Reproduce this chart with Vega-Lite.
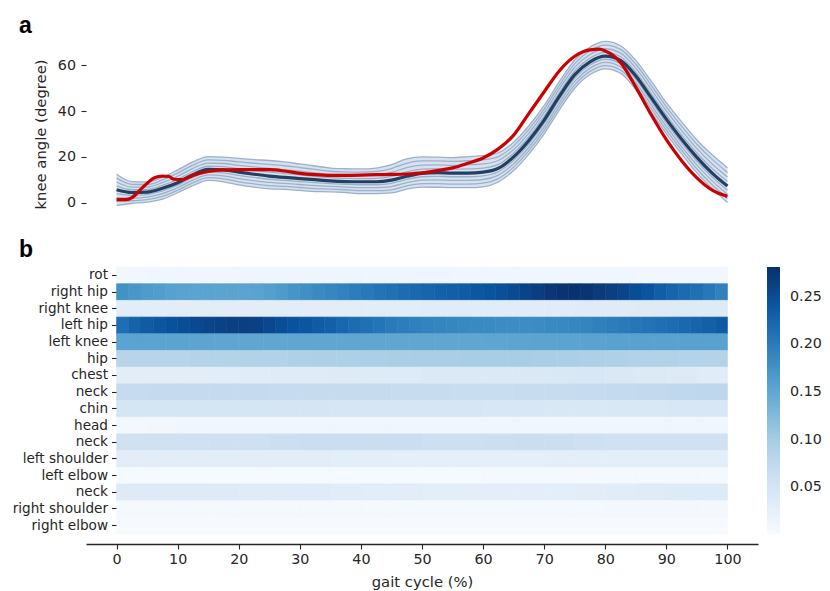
{
"$schema": "https://vega.github.io/schema/vega-lite/v6.json",
"padding": {"left": 12, "top": 14, "right": 5, "bottom": 2},
"spacing": 24,
"resolve": {"scale": {"color": "independent"}, "legend": {"color": "independent"}},
"config": {"view": {"stroke": null}, "font": "DejaVu Sans",
  "axis": {"labelFont": "DejaVu Sans", "titleFont": "DejaVu Sans", "labelColor": "#262626", "titleColor": "#262626", "tickColor": "#262626", "domainColor": "#262626", "grid": false, "titleFontWeight": "normal"},
  "legend": {"labelFont": "DejaVu Sans", "labelColor": "#262626"}},
"datasets": {
"mean": [
{"x":0,"m":5.6,"a1":7.3,"a2":9.0,"a3":10.7,"a4":12.4,"b1":3.9,"b2":2.2,"b3":0.5,"b4":-1.2},
{"x":2.5,"m":4.4,"a1":5.6,"a2":6.8,"a3":8.0,"a4":9.2,"b1":3.2,"b2":2.0,"b3":0.8,"b4":-0.4},
{"x":5,"m":4.6,"a1":5.7,"a2":6.8,"a3":7.9,"a4":9.0,"b1":3.5,"b2":2.4,"b3":1.3,"b4":0.2},
{"x":7.5,"m":6.3,"a1":7.5,"a2":8.7,"a3":9.9,"a4":11.1,"b1":5.1,"b2":3.9,"b3":2.7,"b4":1.5},
{"x":10,"m":8.7,"a1":10.1,"a2":11.5,"a3":12.9,"a4":14.3,"b1":7.6,"b2":6.5,"b3":5.4,"b4":4.3},
{"x":12.5,"m":12.2,"a1":13.6,"a2":15.0,"a3":16.4,"a4":17.8,"b1":11.0,"b2":9.8,"b3":8.6,"b4":7.4},
{"x":15,"m":14.5,"a1":15.9,"a2":17.3,"a3":18.7,"a4":20.1,"b1":13.3,"b2":12.1,"b3":10.9,"b4":9.7},
{"x":17.5,"m":14.3,"a1":15.7,"a2":17.1,"a3":18.5,"a4":19.9,"b1":13.0,"b2":11.7,"b3":10.4,"b4":9.1},
{"x":20,"m":13.3,"a1":14.8,"a2":16.3,"a3":17.8,"a4":19.3,"b1":11.9,"b2":10.5,"b3":9.1,"b4":7.7},
{"x":22.5,"m":12.4,"a1":14.0,"a2":15.6,"a3":17.2,"a4":18.8,"b1":11.0,"b2":9.6,"b3":8.2,"b4":6.8},
{"x":25,"m":11.6,"a1":13.3,"a2":15.0,"a3":16.7,"a4":18.4,"b1":10.2,"b2":8.8,"b3":7.4,"b4":6.0},
{"x":27.5,"m":11.0,"a1":12.7,"a2":14.4,"a3":16.1,"a4":17.8,"b1":9.7,"b2":8.4,"b3":7.1,"b4":5.8},
{"x":30,"m":10.5,"a1":12.1,"a2":13.7,"a3":15.3,"a4":16.9,"b1":9.2,"b2":7.9,"b3":6.6,"b4":5.3},
{"x":32.5,"m":10.0,"a1":11.5,"a2":13.0,"a3":14.5,"a4":16.0,"b1":8.7,"b2":7.4,"b3":6.1,"b4":4.8},
{"x":35,"m":9.5,"a1":10.9,"a2":12.3,"a3":13.7,"a4":15.1,"b1":8.3,"b2":7.1,"b3":5.9,"b4":4.7},
{"x":37.5,"m":9.2,"a1":10.6,"a2":12.0,"a3":13.4,"a4":14.8,"b1":8.0,"b2":6.8,"b3":5.6,"b4":4.4},
{"x":40,"m":9.1,"a1":10.5,"a2":11.9,"a3":13.3,"a4":14.7,"b1":7.8,"b2":6.5,"b3":5.2,"b4":3.9},
{"x":42.5,"m":9.1,"a1":10.6,"a2":12.1,"a3":13.6,"a4":15.1,"b1":7.8,"b2":6.5,"b3":5.2,"b4":3.9},
{"x":45,"m":9.8,"a1":11.5,"a2":13.2,"a3":14.9,"a4":16.6,"b1":8.4,"b2":7.0,"b3":5.6,"b4":4.2},
{"x":47.5,"m":11.5,"a1":13.4,"a2":15.3,"a3":17.2,"a4":19.1,"b1":10.1,"b2":8.7,"b3":7.3,"b4":5.9},
{"x":50,"m":12.8,"a1":14.6,"a2":16.4,"a3":18.2,"a4":20.0,"b1":11.3,"b2":9.8,"b3":8.3,"b4":6.8},
{"x":52.5,"m":13.1,"a1":14.8,"a2":16.5,"a3":18.2,"a4":19.9,"b1":11.5,"b2":9.9,"b3":8.3,"b4":6.7},
{"x":55,"m":12.9,"a1":14.6,"a2":16.3,"a3":18.0,"a4":19.7,"b1":11.3,"b2":9.7,"b3":8.1,"b4":6.5},
{"x":57.5,"m":12.9,"a1":14.7,"a2":16.5,"a3":18.3,"a4":20.1,"b1":11.3,"b2":9.7,"b3":8.1,"b4":6.5},
{"x":60,"m":13.3,"a1":15.1,"a2":16.9,"a3":18.7,"a4":20.5,"b1":11.7,"b2":10.1,"b3":8.5,"b4":6.9},
{"x":62.5,"m":15.0,"a1":16.7,"a2":18.4,"a3":20.1,"a4":21.8,"b1":13.5,"b2":12.0,"b3":10.5,"b4":9.0},
{"x":65,"m":20.0,"a1":21.6,"a2":23.2,"a3":24.8,"a4":26.4,"b1":18.5,"b2":17.0,"b3":15.5,"b4":14.0},
{"x":67.5,"m":27.2,"a1":28.8,"a2":30.4,"a3":32.0,"a4":33.6,"b1":25.7,"b2":24.2,"b3":22.7,"b4":21.2},
{"x":70,"m":36.1,"a1":37.7,"a2":39.3,"a3":40.9,"a4":42.5,"b1":34.6,"b2":33.1,"b3":31.6,"b4":30.1},
{"x":72.5,"m":46.6,"a1":48.2,"a2":49.8,"a3":51.4,"a4":53.0,"b1":45.1,"b2":43.6,"b3":42.1,"b4":40.6},
{"x":75,"m":56.0,"a1":57.6,"a2":59.2,"a3":60.8,"a4":62.4,"b1":54.5,"b2":53.0,"b3":51.5,"b4":50.0},
{"x":77.5,"m":61.6,"a1":63.2,"a2":64.8,"a3":66.4,"a4":68.0,"b1":60.2,"b2":58.8,"b3":57.4,"b4":56.0},
{"x":80,"m":64.1,"a1":65.7,"a2":67.3,"a3":68.9,"a4":70.5,"b1":62.7,"b2":61.3,"b3":59.9,"b4":58.5},
{"x":82.5,"m":62.2,"a1":63.8,"a2":65.4,"a3":67.0,"a4":68.6,"b1":60.8,"b2":59.4,"b3":58.0,"b4":56.6},
{"x":85,"m":55.4,"a1":57.1,"a2":58.8,"a3":60.5,"a4":62.2,"b1":53.9,"b2":52.4,"b3":50.9,"b4":49.4},
{"x":87.5,"m":46.0,"a1":47.8,"a2":49.6,"a3":51.4,"a4":53.2,"b1":44.4,"b2":42.8,"b3":41.2,"b4":39.6},
{"x":90,"m":36.5,"a1":38.3,"a2":40.1,"a3":41.9,"a4":43.7,"b1":34.9,"b2":33.3,"b3":31.7,"b4":30.1},
{"x":92.5,"m":27.7,"a1":29.6,"a2":31.5,"a3":33.4,"a4":35.3,"b1":26.1,"b2":24.5,"b3":22.9,"b4":21.3},
{"x":95,"m":19.8,"a1":21.7,"a2":23.6,"a3":25.5,"a4":27.4,"b1":18.1,"b2":16.4,"b3":14.7,"b4":13.0},
{"x":97.5,"m":12.9,"a1":14.9,"a2":16.9,"a3":18.9,"a4":20.9,"b1":11.2,"b2":9.5,"b3":7.8,"b4":6.1},
{"x":100,"m":7.2,"a1":9.2,"a2":11.2,"a3":13.2,"a4":15.2,"b1":5.4,"b2":3.6,"b3":1.8,"b4":0.0}
],
"subj": [
{"x":0,"r":1.3},{"x":1.5,"r":1.3},{"x":2.6,"r":2.3},{"x":4.2,"r":6.4},{"x":5.2,"r":8.9},{"x":6.2,"r":10.9},{"x":7.5,"r":11.6},{"x":8.6,"r":11.4},{"x":9.4,"r":10.2},{"x":10.9,"r":10.1},{"x":12.5,"r":11.9},{"x":15,"r":13.6},{"x":17.5,"r":14.3},{"x":20,"r":14.4},{"x":22.5,"r":14.4},{"x":25,"r":14.4},{"x":27.5,"r":13.8},{"x":30,"r":12.8},{"x":32.5,"r":12.2},{"x":35,"r":11.9},{"x":37.5,"r":11.9},{"x":40,"r":12.0},{"x":42.5,"r":12.2},{"x":45,"r":12.3},{"x":47.5,"r":12.5},{"x":50,"r":13.0},{"x":52.5,"r":14.0},{"x":55,"r":15.2},{"x":57.5,"r":17.2},{"x":60,"r":19.5},{"x":62.5,"r":23.5},{"x":65,"r":29.5},{"x":67.5,"r":39.0},{"x":70,"r":48.5},{"x":72.5,"r":57.7},{"x":75,"r":64.0},{"x":77.5,"r":66.8},{"x":79,"r":67.1},{"x":80,"r":66.3},{"x":82.5,"r":61.3},{"x":85,"r":50.5},{"x":87.5,"r":38.5},{"x":90,"r":27.5},{"x":92.5,"r":18.3},{"x":95,"r":10.8},{"x":97.5,"r":5.4},{"x":100,"r":2.7}
],
"heat": [
{"i":0,"x":0,"x2":5,"v":0.010},{"i":0,"x":5,"x2":10,"v":0.011},{"i":0,"x":10,"x2":15,"v":0.012},{"i":0,"x":15,"x2":20,"v":0.012},{"i":0,"x":20,"x2":25,"v":0.013},{"i":0,"x":25,"x2":30,"v":0.013},{"i":0,"x":30,"x2":35,"v":0.013},{"i":0,"x":35,"x2":40,"v":0.013},{"i":0,"x":40,"x2":45,"v":0.013},{"i":0,"x":45,"x2":50,"v":0.013},{"i":0,"x":50,"x2":55,"v":0.013},{"i":0,"x":55,"x2":60,"v":0.012},{"i":0,"x":60,"x2":65,"v":0.012},{"i":0,"x":65,"x2":70,"v":0.012},{"i":0,"x":70,"x2":75,"v":0.012},{"i":0,"x":75,"x2":80,"v":0.011},{"i":0,"x":80,"x2":85,"v":0.011},{"i":0,"x":85,"x2":90,"v":0.010},{"i":0,"x":90,"x2":95,"v":0.010},{"i":0,"x":95,"x2":100,"v":0.009},
{"i":1,"x":0,"x2":2,"v":0.176},{"i":1,"x":2,"x2":4,"v":0.170},{"i":1,"x":4,"x2":6,"v":0.165},{"i":1,"x":6,"x2":8,"v":0.162},{"i":1,"x":8,"x2":10,"v":0.158},{"i":1,"x":10,"x2":12,"v":0.156},{"i":1,"x":12,"x2":14,"v":0.155},{"i":1,"x":14,"x2":16,"v":0.154},{"i":1,"x":16,"x2":18,"v":0.154},{"i":1,"x":18,"x2":20,"v":0.154},
{"i":1,"x":20,"x2":22,"v":0.155},{"i":1,"x":22,"x2":24,"v":0.156},{"i":1,"x":24,"x2":26,"v":0.160},{"i":1,"x":26,"x2":28,"v":0.166},{"i":1,"x":28,"x2":30,"v":0.172},{"i":1,"x":30,"x2":32,"v":0.178},{"i":1,"x":32,"x2":34,"v":0.184},{"i":1,"x":34,"x2":36,"v":0.188},{"i":1,"x":36,"x2":38,"v":0.193},{"i":1,"x":38,"x2":40,"v":0.198},
{"i":1,"x":40,"x2":42,"v":0.203},{"i":1,"x":42,"x2":44,"v":0.208},{"i":1,"x":44,"x2":46,"v":0.212},{"i":1,"x":46,"x2":48,"v":0.216},{"i":1,"x":48,"x2":50,"v":0.221},{"i":1,"x":50,"x2":52,"v":0.224},{"i":1,"x":52,"x2":54,"v":0.228},{"i":1,"x":54,"x2":56,"v":0.231},{"i":1,"x":56,"x2":58,"v":0.235},{"i":1,"x":58,"x2":60,"v":0.239},
{"i":1,"x":60,"x2":62,"v":0.243},{"i":1,"x":62,"x2":64,"v":0.248},{"i":1,"x":64,"x2":66,"v":0.253},{"i":1,"x":66,"x2":68,"v":0.260},{"i":1,"x":68,"x2":70,"v":0.266},{"i":1,"x":70,"x2":72,"v":0.272},{"i":1,"x":72,"x2":74,"v":0.277},{"i":1,"x":74,"x2":76,"v":0.278},{"i":1,"x":76,"x2":78,"v":0.275},{"i":1,"x":78,"x2":80,"v":0.269},
{"i":1,"x":80,"x2":82,"v":0.264},{"i":1,"x":82,"x2":84,"v":0.258},{"i":1,"x":84,"x2":86,"v":0.250},{"i":1,"x":86,"x2":88,"v":0.242},{"i":1,"x":88,"x2":90,"v":0.233},{"i":1,"x":90,"x2":92,"v":0.225},{"i":1,"x":92,"x2":94,"v":0.218},{"i":1,"x":94,"x2":96,"v":0.212},{"i":1,"x":96,"x2":98,"v":0.204},{"i":1,"x":98,"x2":100,"v":0.194},
{"i":2,"x":0,"x2":5,"v":0.032},{"i":2,"x":5,"x2":10,"v":0.031},{"i":2,"x":10,"x2":15,"v":0.031},{"i":2,"x":15,"x2":20,"v":0.031},{"i":2,"x":20,"x2":25,"v":0.031},{"i":2,"x":25,"x2":30,"v":0.031},{"i":2,"x":30,"x2":35,"v":0.031},{"i":2,"x":35,"x2":40,"v":0.031},{"i":2,"x":40,"x2":45,"v":0.032},{"i":2,"x":45,"x2":50,"v":0.032},{"i":2,"x":50,"x2":55,"v":0.033},{"i":2,"x":55,"x2":60,"v":0.033},{"i":2,"x":60,"x2":65,"v":0.033},{"i":2,"x":65,"x2":70,"v":0.033},{"i":2,"x":70,"x2":75,"v":0.033},{"i":2,"x":75,"x2":80,"v":0.034},{"i":2,"x":80,"x2":85,"v":0.035},{"i":2,"x":85,"x2":90,"v":0.036},{"i":2,"x":90,"x2":95,"v":0.037},{"i":2,"x":95,"x2":100,"v":0.037},
{"i":3,"x":0,"x2":2,"v":0.214},{"i":3,"x":2,"x2":4,"v":0.226},{"i":3,"x":4,"x2":6,"v":0.235},{"i":3,"x":6,"x2":8,"v":0.240},{"i":3,"x":8,"x2":10,"v":0.246},{"i":3,"x":10,"x2":12,"v":0.250},{"i":3,"x":12,"x2":14,"v":0.254},{"i":3,"x":14,"x2":16,"v":0.258},{"i":3,"x":16,"x2":18,"v":0.261},{"i":3,"x":18,"x2":20,"v":0.264},
{"i":3,"x":20,"x2":22,"v":0.265},{"i":3,"x":22,"x2":24,"v":0.262},{"i":3,"x":24,"x2":26,"v":0.256},{"i":3,"x":26,"x2":28,"v":0.250},{"i":3,"x":28,"x2":30,"v":0.245},{"i":3,"x":30,"x2":32,"v":0.240},{"i":3,"x":32,"x2":34,"v":0.235},{"i":3,"x":34,"x2":36,"v":0.229},{"i":3,"x":36,"x2":38,"v":0.223},{"i":3,"x":38,"x2":40,"v":0.217},
{"i":3,"x":40,"x2":42,"v":0.212},{"i":3,"x":42,"x2":44,"v":0.207},{"i":3,"x":44,"x2":46,"v":0.202},{"i":3,"x":46,"x2":48,"v":0.198},{"i":3,"x":48,"x2":50,"v":0.195},{"i":3,"x":50,"x2":52,"v":0.192},{"i":3,"x":52,"x2":54,"v":0.190},{"i":3,"x":54,"x2":56,"v":0.188},{"i":3,"x":56,"x2":58,"v":0.186},{"i":3,"x":58,"x2":60,"v":0.184},
{"i":3,"x":60,"x2":62,"v":0.183},{"i":3,"x":62,"x2":64,"v":0.182},{"i":3,"x":64,"x2":66,"v":0.181},{"i":3,"x":66,"x2":68,"v":0.181},{"i":3,"x":68,"x2":70,"v":0.182},{"i":3,"x":70,"x2":72,"v":0.184},{"i":3,"x":72,"x2":74,"v":0.186},{"i":3,"x":74,"x2":76,"v":0.188},{"i":3,"x":76,"x2":78,"v":0.191},{"i":3,"x":78,"x2":80,"v":0.195},
{"i":3,"x":80,"x2":82,"v":0.198},{"i":3,"x":82,"x2":84,"v":0.201},{"i":3,"x":84,"x2":86,"v":0.205},{"i":3,"x":86,"x2":88,"v":0.209},{"i":3,"x":88,"x2":90,"v":0.213},{"i":3,"x":90,"x2":92,"v":0.217},{"i":3,"x":92,"x2":94,"v":0.221},{"i":3,"x":94,"x2":96,"v":0.225},{"i":3,"x":96,"x2":98,"v":0.230},{"i":3,"x":98,"x2":100,"v":0.236},
{"i":4,"x":0,"x2":4,"v":0.155},{"i":4,"x":4,"x2":8,"v":0.155},{"i":4,"x":8,"x2":12,"v":0.154},{"i":4,"x":12,"x2":16,"v":0.153},{"i":4,"x":16,"x2":20,"v":0.152},{"i":4,"x":20,"x2":24,"v":0.151},{"i":4,"x":24,"x2":28,"v":0.151},{"i":4,"x":28,"x2":32,"v":0.151},{"i":4,"x":32,"x2":36,"v":0.151},{"i":4,"x":36,"x2":40,"v":0.151},{"i":4,"x":40,"x2":44,"v":0.151},{"i":4,"x":44,"x2":48,"v":0.151},{"i":4,"x":48,"x2":52,"v":0.151},{"i":4,"x":52,"x2":56,"v":0.151},{"i":4,"x":56,"x2":60,"v":0.151},{"i":4,"x":60,"x2":64,"v":0.152},{"i":4,"x":64,"x2":68,"v":0.153},{"i":4,"x":68,"x2":72,"v":0.154},{"i":4,"x":72,"x2":76,"v":0.155},{"i":4,"x":76,"x2":80,"v":0.156},{"i":4,"x":80,"x2":84,"v":0.157},{"i":4,"x":84,"x2":88,"v":0.157},{"i":4,"x":88,"x2":92,"v":0.157},{"i":4,"x":92,"x2":96,"v":0.157},{"i":4,"x":96,"x2":100,"v":0.157},
{"i":5,"x":0,"x2":4,"v":0.085},{"i":5,"x":4,"x2":8,"v":0.085},{"i":5,"x":8,"x2":12,"v":0.086},{"i":5,"x":12,"x2":16,"v":0.087},{"i":5,"x":16,"x2":20,"v":0.088},{"i":5,"x":20,"x2":24,"v":0.089},{"i":5,"x":24,"x2":28,"v":0.090},{"i":5,"x":28,"x2":32,"v":0.092},{"i":5,"x":32,"x2":36,"v":0.093},{"i":5,"x":36,"x2":40,"v":0.094},{"i":5,"x":40,"x2":44,"v":0.095},{"i":5,"x":44,"x2":48,"v":0.096},{"i":5,"x":48,"x2":52,"v":0.097},{"i":5,"x":52,"x2":56,"v":0.097},{"i":5,"x":56,"x2":60,"v":0.098},{"i":5,"x":60,"x2":64,"v":0.098},{"i":5,"x":64,"x2":68,"v":0.098},{"i":5,"x":68,"x2":72,"v":0.097},{"i":5,"x":72,"x2":76,"v":0.095},{"i":5,"x":76,"x2":80,"v":0.093},{"i":5,"x":80,"x2":84,"v":0.092},{"i":5,"x":84,"x2":88,"v":0.090},{"i":5,"x":88,"x2":92,"v":0.089},{"i":5,"x":92,"x2":96,"v":0.088},{"i":5,"x":96,"x2":100,"v":0.087},
{"i":6,"x":0,"x2":5,"v":0.031},{"i":6,"x":5,"x2":10,"v":0.031},{"i":6,"x":10,"x2":15,"v":0.031},{"i":6,"x":15,"x2":20,"v":0.032},{"i":6,"x":20,"x2":25,"v":0.033},{"i":6,"x":25,"x2":30,"v":0.034},{"i":6,"x":30,"x2":35,"v":0.035},{"i":6,"x":35,"x2":40,"v":0.036},{"i":6,"x":40,"x2":45,"v":0.037},{"i":6,"x":45,"x2":50,"v":0.038},{"i":6,"x":50,"x2":55,"v":0.040},{"i":6,"x":55,"x2":60,"v":0.041},{"i":6,"x":60,"x2":65,"v":0.041},{"i":6,"x":65,"x2":70,"v":0.042},{"i":6,"x":70,"x2":75,"v":0.043},{"i":6,"x":75,"x2":80,"v":0.044},{"i":6,"x":80,"x2":85,"v":0.042},{"i":6,"x":85,"x2":90,"v":0.039},{"i":6,"x":90,"x2":95,"v":0.036},{"i":6,"x":95,"x2":100,"v":0.033},
{"i":7,"x":0,"x2":5,"v":0.071},{"i":7,"x":5,"x2":10,"v":0.072},{"i":7,"x":10,"x2":15,"v":0.072},{"i":7,"x":15,"x2":20,"v":0.072},{"i":7,"x":20,"x2":25,"v":0.072},{"i":7,"x":25,"x2":30,"v":0.071},{"i":7,"x":30,"x2":35,"v":0.070},{"i":7,"x":35,"x2":40,"v":0.070},{"i":7,"x":40,"x2":45,"v":0.070},{"i":7,"x":45,"x2":50,"v":0.069},{"i":7,"x":50,"x2":55,"v":0.068},{"i":7,"x":55,"x2":60,"v":0.067},{"i":7,"x":60,"x2":65,"v":0.067},{"i":7,"x":65,"x2":70,"v":0.068},{"i":7,"x":70,"x2":75,"v":0.069},{"i":7,"x":75,"x2":80,"v":0.071},{"i":7,"x":80,"x2":85,"v":0.073},{"i":7,"x":85,"x2":90,"v":0.075},{"i":7,"x":90,"x2":95,"v":0.077},{"i":7,"x":95,"x2":100,"v":0.078},
{"i":8,"x":0,"x2":5,"v":0.050},{"i":8,"x":5,"x2":10,"v":0.050},{"i":8,"x":10,"x2":15,"v":0.050},{"i":8,"x":15,"x2":20,"v":0.050},{"i":8,"x":20,"x2":25,"v":0.050},{"i":8,"x":25,"x2":30,"v":0.049},{"i":8,"x":30,"x2":35,"v":0.049},{"i":8,"x":35,"x2":40,"v":0.048},{"i":8,"x":40,"x2":45,"v":0.048},{"i":8,"x":45,"x2":50,"v":0.047},{"i":8,"x":50,"x2":55,"v":0.046},{"i":8,"x":55,"x2":60,"v":0.046},{"i":8,"x":60,"x2":65,"v":0.045},{"i":8,"x":65,"x2":70,"v":0.044},{"i":8,"x":70,"x2":75,"v":0.043},{"i":8,"x":75,"x2":80,"v":0.043},{"i":8,"x":80,"x2":85,"v":0.043},{"i":8,"x":85,"x2":90,"v":0.043},{"i":8,"x":90,"x2":95,"v":0.044},{"i":8,"x":95,"x2":100,"v":0.044},
{"i":9,"x":0,"x2":5,"v":0.008},{"i":9,"x":5,"x2":10,"v":0.010},{"i":9,"x":10,"x2":15,"v":0.011},{"i":9,"x":15,"x2":20,"v":0.011},{"i":9,"x":20,"x2":25,"v":0.011},{"i":9,"x":25,"x2":30,"v":0.012},{"i":9,"x":30,"x2":35,"v":0.012},{"i":9,"x":35,"x2":40,"v":0.012},{"i":9,"x":40,"x2":45,"v":0.012},{"i":9,"x":45,"x2":50,"v":0.012},{"i":9,"x":50,"x2":55,"v":0.012},{"i":9,"x":55,"x2":60,"v":0.012},{"i":9,"x":60,"x2":65,"v":0.012},{"i":9,"x":65,"x2":70,"v":0.012},{"i":9,"x":70,"x2":75,"v":0.012},{"i":9,"x":75,"x2":80,"v":0.012},{"i":9,"x":80,"x2":85,"v":0.012},{"i":9,"x":85,"x2":90,"v":0.012},{"i":9,"x":90,"x2":95,"v":0.012},{"i":9,"x":95,"x2":100,"v":0.012},
{"i":10,"x":0,"x2":5,"v":0.057},{"i":10,"x":5,"x2":10,"v":0.057},{"i":10,"x":10,"x2":15,"v":0.058},{"i":10,"x":15,"x2":20,"v":0.059},{"i":10,"x":20,"x2":25,"v":0.060},{"i":10,"x":25,"x2":30,"v":0.062},{"i":10,"x":30,"x2":35,"v":0.064},{"i":10,"x":35,"x2":40,"v":0.064},{"i":10,"x":40,"x2":45,"v":0.065},{"i":10,"x":45,"x2":50,"v":0.064},{"i":10,"x":50,"x2":55,"v":0.061},{"i":10,"x":55,"x2":60,"v":0.061},{"i":10,"x":60,"x2":65,"v":0.063},{"i":10,"x":65,"x2":70,"v":0.065},{"i":10,"x":70,"x2":75,"v":0.062},{"i":10,"x":75,"x2":80,"v":0.059},{"i":10,"x":80,"x2":85,"v":0.058},{"i":10,"x":85,"x2":90,"v":0.058},{"i":10,"x":90,"x2":95,"v":0.058},{"i":10,"x":95,"x2":100,"v":0.058},
{"i":11,"x":0,"x2":5,"v":0.031},{"i":11,"x":5,"x2":10,"v":0.031},{"i":11,"x":10,"x2":15,"v":0.031},{"i":11,"x":15,"x2":20,"v":0.031},{"i":11,"x":20,"x2":25,"v":0.031},{"i":11,"x":25,"x2":30,"v":0.031},{"i":11,"x":30,"x2":35,"v":0.031},{"i":11,"x":35,"x2":40,"v":0.030},{"i":11,"x":40,"x2":45,"v":0.029},{"i":11,"x":45,"x2":50,"v":0.028},{"i":11,"x":50,"x2":55,"v":0.028},{"i":11,"x":55,"x2":60,"v":0.028},{"i":11,"x":60,"x2":65,"v":0.028},{"i":11,"x":65,"x2":70,"v":0.028},{"i":11,"x":70,"x2":75,"v":0.029},{"i":11,"x":75,"x2":80,"v":0.030},{"i":11,"x":80,"x2":85,"v":0.030},{"i":11,"x":85,"x2":90,"v":0.030},{"i":11,"x":90,"x2":95,"v":0.030},{"i":11,"x":95,"x2":100,"v":0.030},
{"i":12,"x":0,"x2":5,"v":0.004},{"i":12,"x":5,"x2":10,"v":0.004},{"i":12,"x":10,"x2":15,"v":0.004},{"i":12,"x":15,"x2":20,"v":0.004},{"i":12,"x":20,"x2":25,"v":0.004},{"i":12,"x":25,"x2":30,"v":0.004},{"i":12,"x":30,"x2":35,"v":0.004},{"i":12,"x":35,"x2":40,"v":0.004},{"i":12,"x":40,"x2":45,"v":0.004},{"i":12,"x":45,"x2":50,"v":0.004},{"i":12,"x":50,"x2":55,"v":0.004},{"i":12,"x":55,"x2":60,"v":0.004},{"i":12,"x":60,"x2":65,"v":0.005},{"i":12,"x":65,"x2":70,"v":0.005},{"i":12,"x":70,"x2":75,"v":0.005},{"i":12,"x":75,"x2":80,"v":0.005},{"i":12,"x":80,"x2":85,"v":0.005},{"i":12,"x":85,"x2":90,"v":0.005},{"i":12,"x":90,"x2":95,"v":0.005},{"i":12,"x":95,"x2":100,"v":0.005},
{"i":13,"x":0,"x2":5,"v":0.036},{"i":13,"x":5,"x2":10,"v":0.036},{"i":13,"x":10,"x2":15,"v":0.036},{"i":13,"x":15,"x2":20,"v":0.036},{"i":13,"x":20,"x2":25,"v":0.035},{"i":13,"x":25,"x2":30,"v":0.035},{"i":13,"x":30,"x2":35,"v":0.034},{"i":13,"x":35,"x2":40,"v":0.033},{"i":13,"x":40,"x2":45,"v":0.032},{"i":13,"x":45,"x2":50,"v":0.031},{"i":13,"x":50,"x2":55,"v":0.030},{"i":13,"x":55,"x2":60,"v":0.029},{"i":13,"x":60,"x2":65,"v":0.029},{"i":13,"x":65,"x2":70,"v":0.029},{"i":13,"x":70,"x2":75,"v":0.030},{"i":13,"x":75,"x2":80,"v":0.031},{"i":13,"x":80,"x2":85,"v":0.033},{"i":13,"x":85,"x2":90,"v":0.035},{"i":13,"x":90,"x2":95,"v":0.037},{"i":13,"x":95,"x2":100,"v":0.038},
{"i":14,"x":0,"x2":5,"v":0.005},{"i":14,"x":5,"x2":10,"v":0.005},{"i":14,"x":10,"x2":15,"v":0.005},{"i":14,"x":15,"x2":20,"v":0.005},{"i":14,"x":20,"x2":25,"v":0.005},{"i":14,"x":25,"x2":30,"v":0.005},{"i":14,"x":30,"x2":35,"v":0.005},{"i":14,"x":35,"x2":40,"v":0.005},{"i":14,"x":40,"x2":45,"v":0.005},{"i":14,"x":45,"x2":50,"v":0.005},{"i":14,"x":50,"x2":55,"v":0.005},{"i":14,"x":55,"x2":60,"v":0.005},{"i":14,"x":60,"x2":65,"v":0.005},{"i":14,"x":65,"x2":70,"v":0.006},{"i":14,"x":70,"x2":75,"v":0.006},{"i":14,"x":75,"x2":80,"v":0.006},{"i":14,"x":80,"x2":85,"v":0.007},{"i":14,"x":85,"x2":90,"v":0.007},{"i":14,"x":90,"x2":95,"v":0.008},{"i":14,"x":95,"x2":100,"v":0.008},
{"i":15,"x":0,"x2":5,"v":0.003},{"i":15,"x":5,"x2":10,"v":0.003},{"i":15,"x":10,"x2":15,"v":0.003},{"i":15,"x":15,"x2":20,"v":0.003},{"i":15,"x":20,"x2":25,"v":0.003},{"i":15,"x":25,"x2":30,"v":0.003},{"i":15,"x":30,"x2":35,"v":0.003},{"i":15,"x":35,"x2":40,"v":0.003},{"i":15,"x":40,"x2":45,"v":0.003},{"i":15,"x":45,"x2":50,"v":0.003},{"i":15,"x":50,"x2":55,"v":0.003},{"i":15,"x":55,"x2":60,"v":0.003},{"i":15,"x":60,"x2":65,"v":0.003},{"i":15,"x":65,"x2":70,"v":0.003},{"i":15,"x":70,"x2":75,"v":0.003},{"i":15,"x":75,"x2":80,"v":0.003},{"i":15,"x":80,"x2":85,"v":0.003},{"i":15,"x":85,"x2":90,"v":0.003},{"i":15,"x":90,"x2":95,"v":0.003},{"i":15,"x":95,"x2":100,"v":0.003}
]
},
"vconcat": [
{
"width": 672, "height": 160,
"title": {"text": "a", "anchor": "start", "frame": "group", "font": "Liberation Sans", "fontWeight": "bold", "fontSize": 23, "color": "#000000", "dx": -67, "offset": 1},
"data": {"name": "mean"},
"layer": [
{"mark": {"type": "area", "color": "#d6e2ef", "interpolate": "monotone", "opacity": 1},
 "encoding": {
  "x": {"field": "x", "type": "quantitative", "scale": {"domain": [-5, 105], "nice": false, "zero": false}, "axis": null},
  "y": {"field": "b4", "type": "quantitative", "title": "knee angle (degree)", "scale": {"domain": [-5, 65], "nice": false, "zero": false},
        "axis": {"values": [0, 20, 40, 60], "domain": false, "tickSize": 5, "tickWidth": 1.1, "labelFontSize": 14.3, "labelPadding": 5.5, "titleFontSize": 14.8, "titlePadding": 9}},
  "y2": {"field": "a4"}}},
{"transform": [{"fold": ["a1", "a2", "a3", "a4", "b1", "b2", "b3", "b4"], "as": ["k", "val"]}],
 "mark": {"type": "line", "color": "#9cb1c9", "strokeWidth": 1.3, "interpolate": "monotone"},
 "encoding": {
  "x": {"field": "x", "type": "quantitative", "axis": null},
  "y": {"field": "val", "type": "quantitative", "title": "knee angle (degree)"},
  "detail": {"field": "k", "type": "nominal"}}},
{"mark": {"type": "line", "color": "#233f62", "strokeWidth": 3.2, "interpolate": "monotone"},
 "encoding": {
  "x": {"field": "x", "type": "quantitative", "axis": null},
  "y": {"field": "m", "type": "quantitative", "title": "knee angle (degree)"}}},
{"data": {"name": "subj"},
 "mark": {"type": "line", "color": "#cc0000", "strokeWidth": 3.2, "interpolate": "monotone"},
 "encoding": {
  "x": {"field": "x", "type": "quantitative", "axis": null},
  "y": {"field": "r", "type": "quantitative", "title": "knee angle (degree)"}}}
]
},
{
"name": "hm",
"width": 672, "height": 267,
"title": {"text": "b", "anchor": "start", "frame": "group", "font": "Liberation Sans", "fontWeight": "bold", "fontSize": 23, "color": "#000000", "dx": -67, "offset": 5},
"data": {"name": "heat"},
"mark": {"type": "rect", "stroke": {"expr": "scale('hm_color', datum.v)"}, "strokeWidth": 0.6},
"encoding": {
 "x": {"field": "x", "type": "quantitative", "scale": {"domain": [-5, 105], "nice": false, "zero": false},
       "axis": {"values": [0, 10, 20, 30, 40, 50, 60, 70, 80, 90, 100], "title": "gait cycle (%)", "offset": 10, "domainWidth": 1.5, "tickSize": 5, "tickWidth": 1.1, "labelFontSize": 14.3, "labelPadding": 3, "titleFontSize": 14.8, "titlePadding": 8}},
 "x2": {"field": "x2"},
 "y": {"field": "i", "type": "ordinal", "scale": {"paddingInner": 0, "paddingOuter": 0},
       "axis": {"title": null, "offset": -30, "domain": false, "tickSize": 4.5, "tickWidth": 1.1, "labelFontSize": 13.6, "labelPadding": 4,
                "labelExpr": "['rot','right hip','right knee','left hip','left knee','hip','chest','neck','chin','head','neck','left shoulder','left elbow','neck','right shoulder','right elbow'][datum.value]"}},
 "color": {"field": "v", "type": "quantitative",
   "scale": {"type": "linear", "domain": [0.001, 0.036, 0.071, 0.106, 0.141, 0.176, 0.211, 0.246, 0.281], "range": ["#f7fbff", "#deebf7", "#c6dbef", "#9ecae1", "#6baed6", "#4292c6", "#2171b5", "#08519c", "#08306b"], "clamp": true},
   "legend": {"type": "gradient", "title": null, "orient": "right", "offset": 9, "direction": "vertical", "gradientLength": 267, "gradientThickness": 13, "values": [0.05, 0.1, 0.15, 0.2, 0.25], "format": ".2f", "labelFontSize": 14.3, "labelOffset": 10, "gradientStrokeWidth": 0, "labelOverlap": false}}
}
}
]
}
